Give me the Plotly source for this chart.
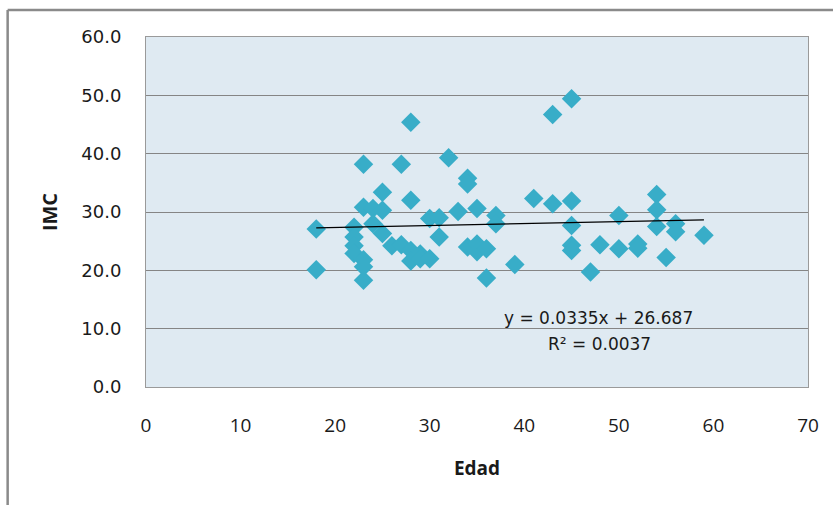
import plotly.graph_objects as go

# Data (Edad vs IMC)
edad = [18, 18,
        22, 22, 22, 22,
        23, 23, 23, 23, 23,
        24, 24, 25, 25, 25, 26, 27, 27,
        28, 28, 28, 28, 29, 29, 30, 30, 31, 31, 32, 33,
        34, 34, 34, 35, 35, 35, 36, 36, 37, 37, 39, 41,
        43, 43, 45, 45, 45, 45, 45, 47, 48, 50, 50,
        52, 52, 54, 54, 54, 55, 56, 56, 59]
imc = [27.1, 20.1,
       27.4, 25.7, 24.2, 22.9,
       38.2, 30.8, 21.8, 20.6, 18.3,
       30.6, 28.0, 33.4, 30.3, 26.3, 24.2, 38.2, 24.4,
       45.4, 32.0, 23.4, 21.6, 22.8, 22.0, 28.9, 22.0, 29.0, 25.7, 39.3, 30.1,
       35.8, 34.8, 24.0, 30.6, 24.5, 23.2, 23.7, 18.7, 29.4, 28.0, 21.0, 32.3,
       46.7, 31.4, 49.4, 31.9, 27.7, 24.3, 23.4, 19.7, 24.4, 29.4, 23.7,
       24.5, 23.8, 33.0, 30.4, 27.5, 22.2, 28.0, 26.6, 26.0]

trend_slope = [0.0335]
trend_intercept = [26.687]
trend_x = [min(edad), max(edad)]
trend_y = [trend_slope[0] * v + trend_intercept[0] for v in trend_x]

x_ticks = [0, 10, 20, 30, 40, 50, 60, 70]
y_ticks = [0, 10, 20, 30, 40, 50, 60]

fig = go.Figure()
fig.add_trace(go.Scatter(
    x=edad, y=imc, mode="markers",
    marker=dict(symbol="diamond", size=15, color="#38ADC8", line=dict(width=0)),
    showlegend=False, hoverinfo="x+y"))
fig.add_trace(go.Scatter(
    x=trend_x, y=trend_y, mode="lines",
    line=dict(color="#000000", width=1.3), showlegend=False))

fig.add_annotation(x=47.8, y=11.9, xref="x", yref="y",
                   text="y = 0.0335x + 26.687", showarrow=False,
                   font=dict(family="DejaVu Sans", size=17, color="#1a1a1a"))
fig.add_annotation(x=48.0, y=7.4, xref="x", yref="y",
                   text="R² = 0.0037", showarrow=False,
                   font=dict(family="DejaVu Sans", size=17, color="#1a1a1a"))

# outer chart border (left and top visible)
fig.add_shape(type="line", xref="paper", yref="paper",
              x0=-0.209, x1=-0.209, y0=1.077, y1=-0.5,
              line=dict(color="#8a8a8a", width=2.5))
fig.add_shape(type="line", xref="paper", yref="paper",
              x0=-0.209, x1=1.2, y0=1.077, y1=1.077,
              line=dict(color="#8a8a8a", width=2.5))

fig.update_layout(
    width=833, height=505,
    margin=dict(l=146, r=25, t=37, b=118),
    paper_bgcolor="white",
    plot_bgcolor="#DFEAF2",
    font=dict(family="DejaVu Sans", color="#1a1a1a"),
)
fig.update_xaxes(
    range=[0, 70], tickvals=x_ticks, ticktext=[str(v) for v in x_ticks],
    showgrid=False, zeroline=False,
    showline=True, linecolor="#9a9a9a", linewidth=1, mirror=True,
    ticks="", ticklabelstandoff=21,
    tickfont=dict(family="Open Sans", size=19, color="#1a1a1a"),
    title=dict(text="<b>Edad</b>", standoff=24,
               font=dict(family="Open Sans", size=19, color="#1a1a1a")),
)
fig.update_yaxes(
    range=[0, 60], tickvals=y_ticks, ticktext=[f"{v:.1f}" for v in y_ticks],
    showgrid=True, gridcolor="#858585", gridwidth=1.3, zeroline=False,
    showline=True, linecolor="#9a9a9a", linewidth=1, mirror=True,
    ticks="", ticklabelstandoff=20,
    tickfont=dict(family="DejaVu Sans", size=18, color="#1a1a1a"),
    title=dict(text="<b>IMC</b>", standoff=18,
               font=dict(family="Open Sans", size=20, color="#1a1a1a")),
)

fig.write_html("out.html")
